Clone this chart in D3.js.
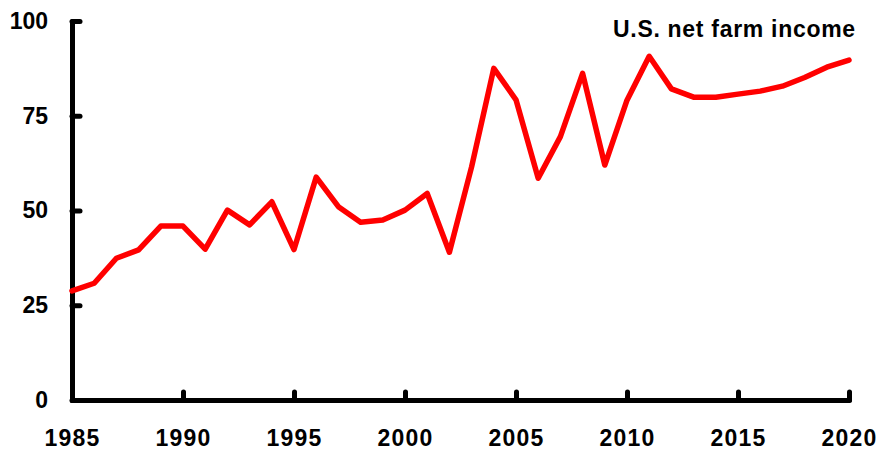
<!DOCTYPE html>
<html>
<head>
<meta charset="utf-8">
<script src="https://cdn.jsdelivr.net/npm/d3@7"></script>
<style>
  body { margin: 0; background: #fff; }
  svg { display: block; }
  .axis text { font-family: "Liberation Sans", Arial, sans-serif; font-weight: bold; font-size: 23px; fill: #000; }
  .axis .domain, .axis .tick line { stroke: #000; stroke-width: 5; stroke-linecap: round; }
  .title { font-family: "Liberation Sans", Arial, sans-serif; font-weight: bold; font-size: 23px; letter-spacing: 0.7px; }
</style>
</head>
<body>
<div id="chart"></div>
<script>
var years = d3.range(1985, 2021);
var income = [28.8, 30.8, 37.4, 39.6, 45.9, 45.9, 39.8, 50.1, 46.2, 52.3,
              39.7, 58.8, 51.0, 46.9, 47.5, 50.1, 54.5, 39.0, 61.5, 87.5,
              79.2, 58.5, 69.5, 86.2, 62.0, 79.1, 90.7, 82.1, 79.9, 79.9,
              80.7, 81.5, 82.8, 85.1, 87.8, 89.7];
var xTicks = [1985, 1990, 1995, 2000, 2005, 2010, 2015, 2020];
var yTicks = [0, 25, 50, 75, 100];

var width = 880, height = 451;
var margin = {top: 21, right: 31, bottom: 51, left: 72};
var w = width - margin.left - margin.right;
var h = height - margin.top - margin.bottom;

var svg = d3.select("#chart")
            .append("svg")
            .attr("width", width)
            .attr("height", height);

var g = svg.append("g")
           .attr("transform", "translate(" + margin.left + "," + margin.top + ")");

var xScale = d3.scaleLinear().domain([1985, 2020]).range([0, w]);
var yScale = d3.scaleLinear().domain([0, 100]).range([h, 0]);

// axes, ticks pointing inwards
var xAxis = d3.axisBottom(xScale)
              .tickValues(xTicks)
              .tickFormat(d3.format("d"))
              .tickSizeInner(-8)
              .tickSizeOuter(0)
              .tickPadding(30);

var yAxis = d3.axisLeft(yScale)
              .tickValues(yTicks)
              .tickSizeInner(-8)
              .tickSizeOuter(0)
              .tickPadding(24);

g.append("g")
  .attr("class", "axis x-axis")
  .attr("transform", "translate(0," + h + ")")
  .call(xAxis)
  .selectAll("text")
  .style("letter-spacing", "1.2px");

g.append("g")
  .attr("class", "axis y-axis")
  .call(yAxis);

// the line
var line = d3.line()
  .x(function(d, i) { return xScale(years[i]); })
  .y(function(d) { return yScale(d); });

g.append("path")
  .datum(income)
  .attr("fill", "none")
  .attr("stroke", "#ff0000")
  .attr("stroke-width", 5.5)
  .attr("stroke-linejoin", "round")
  .attr("stroke-linecap", "round")
  .attr("d", line);

svg.append("text")
  .attr("class", "title")
  .attr("x", 613)
  .attr("y", 37)
  .text("U.S. net farm income");
</script>
</body>
</html>
